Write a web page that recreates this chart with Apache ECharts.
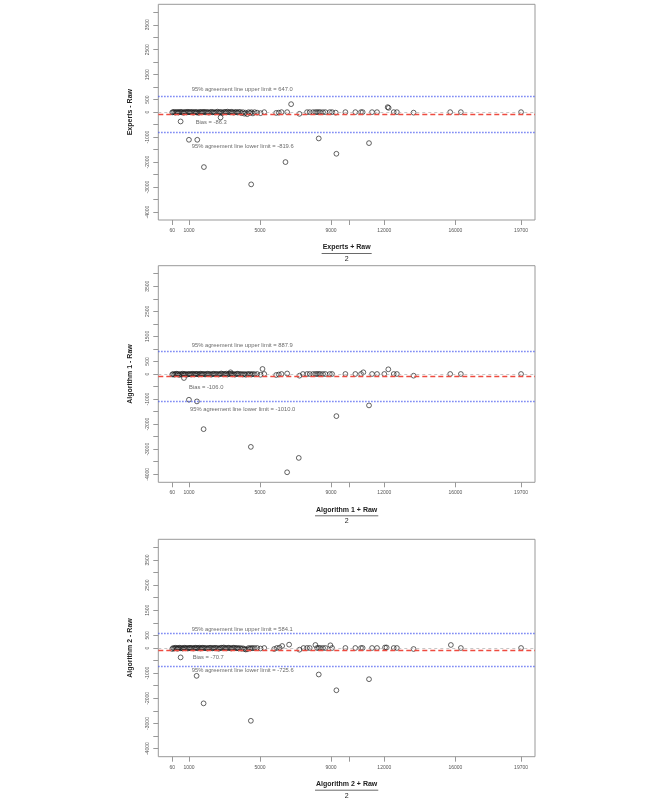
<!DOCTYPE html>
<html><head><meta charset="utf-8">
<script src="https://cdn.jsdelivr.net/npm/echarts@6/dist/echarts.min.js"></script>
<style>html,body{margin:0;padding:0;background:#fff}#c{width:666px;height:799px}</style>
</head><body><div id="c"></div>
<script>
// ---------- data ----------
const panelNames = ['Experts', 'Algorithm 1', 'Algorithm 2'];

const expertsPoints = [[60,-10],[110,0],[170,10],[230,-20],[290,0],[350,5],[400,-15],[460,0],[531,-373],[520,10],[580,-5],[640,0],[700,-25],[760,5],[820,0],[880,-10],[940,15],[1000,-1107],[1000,0],[1060,-5],[1120,0],[1180,10],[1240,-20],[1300,0],[1360,5],[1420,-10],[1469,-1107],[1480,0],[1540,-30],[1600,10],[1660,0],[1720,-5],[1780,0],[1843,-2200],[1850,15],[1910,-10],[1980,0],[2050,5],[2120,-20],[2190,0],[2260,10],[2330,-5],[2400,0],[2470,-15],[2540,0],[2610,20],[2680,-10],[2750,0],[2780,-213],[2820,5],[2890,-30],[2960,0],[3030,10],[3100,-5],[3170,20],[3240,0],[3310,-10],[3380,15],[3450,0],[3520,-20],[3590,0],[3660,5],[3730,-15],[3800,0],[3880,10],[3960,-40],[4040,0],[4120,-60],[4200,-20],[4280,-80],[4360,0],[4440,-30],[4504,-2893],[4520,0],[4600,-50],[4700,0],[4840,-20],[5030,-40],[5240,0],[5910,-30],[6060,-20],[6210,0],[6435,-2000],[6530,0],[6753,320],[7220,-67],[7650,0],[7800,0],[7990,0],[8120,0],[8215,0],[8309,-1053],[8310,0],[8400,0],[8550,0],[8685,0],[8930,0],[9060,0],[9265,-20],[9302,-1667],[9810,0],[10370,0],[10690,0],[10780,0],[11139,-1240],[11310,0],[11590,0],[12190,200],[12244,173],[12530,0],[12710,0],[13650,-20],[15710,0],[16310,0],[19700,0]];

const algorithm1Points = [[60,-20],[110,0],[170,-30],[230,0],[290,10],[350,-10],[400,0],[460,-40],[520,0],[580,-20],[640,10],[719,-160],[700,0],[760,-10],[820,0],[880,-30],[940,0],[1000,-1027],[1000,-10],[1060,0],[1120,-20],[1180,10],[1240,0],[1300,-15],[1360,0],[1420,5],[1450,-1093],[1480,0],[1540,-20],[1600,0],[1660,10],[1720,-10],[1780,0],[1825,-2200],[1850,0],[1910,-20],[1980,0],[2050,10],[2120,-5],[2190,0],[2260,-25],[2330,0],[2400,10],[2470,-10],[2540,0],[2610,0],[2680,-20],[2750,0],[2820,20],[2890,0],[2960,-10],[3030,0],[3100,15],[3170,-20],[3240,0],[3343,67],[3310,10],[3380,0],[3450,-10],[3520,0],[3590,-25],[3660,0],[3730,10],[3800,0],[3880,-10],[3960,0],[4040,-20],[4120,0],[4200,-30],[4280,0],[4360,-10],[4440,0],[4486,-2907],[4520,-20],[4600,0],[4700,-10],[4840,0],[5030,-30],[5142,200],[5240,0],[5910,-40],[6060,-20],[6210,0],[6528,-3920],[6530,20],[7184,-3347],[7222,-67],[7420,0],[7650,0],[7800,0],[7990,0],[8120,0],[8215,0],[8310,0],[8400,0],[8550,0],[8685,0],[8930,0],[9060,0],[9302,-1680],[9810,0],[10370,0],[10690,0],[10820,67],[11139,-1253],[11310,0],[11590,0],[12000,0],[12226,187],[12530,0],[12710,0],[13650,-67],[15710,0],[16310,0],[19700,0]];

const algorithm2Points = [[60,-40],[110,0],[170,-20],[230,10],[290,0],[350,-30],[400,0],[460,10],[531,-373],[520,-10],[580,0],[640,-20],[700,0],[760,10],[820,-10],[880,0],[940,-20],[1000,0],[1060,10],[1120,-10],[1180,0],[1240,-20],[1300,0],[1360,10],[1420,0],[1431,-1107],[1480,-10],[1540,0],[1600,10],[1660,-20],[1720,0],[1780,10],[1825,-2200],[1850,0],[1910,-10],[1980,0],[2050,-20],[2120,0],[2190,10],[2260,0],[2330,-15],[2400,0],[2470,10],[2540,-10],[2610,0],[2680,-30],[2750,0],[2820,10],[2890,0],[2960,20],[3030,0],[3100,-10],[3170,0],[3240,10],[3310,0],[3380,-20],[3450,0],[3520,10],[3590,0],[3660,-10],[3730,0],[3800,-20],[3880,0],[3960,-30],[4040,-10],[4120,-40],[4200,-60],[4280,-50],[4360,0],[4440,-20],[4486,-2893],[4520,0],[4600,-10],[4700,0],[4840,0],[5030,-20],[5240,0],[5800,-40],[5950,0],[6100,10],[6247,80],[6641,133],[7222,-67],[7450,0],[7650,0],[7800,0],[8121,120],[8215,0],[8309,-1053],[8310,0],[8400,0],[8550,0],[8685,0],[8965,107],[9060,0],[9302,-1680],[9810,0],[10370,0],[10690,0],[10780,0],[11139,-1240],[11310,0],[11590,0],[12040,20],[12130,20],[12530,0],[12710,0],[13650,-40],[15749,120],[16310,0],[19700,0]];

const biasValues = [-86.3, -106.0, -70.7];
const upperLimits = [647.0, 887.9, 584.1];
const lowerLimits = [-819.6, -1099.9, -725.6];
const biasText = ['-86.3', '-106.0', '-70.7'];
const upperText = ['647.0', '887.9', '584.1'];
const lowerText = ['-819.6', '-1010.0', '-725.6'];

const xTickValues = [60, 1000, 5000, 9000, 10000, 12000, 16000, 19700];
const xLabelValues = [60, 1000, 5000, 9000, 12000, 16000, 19700];
const yTickValues = [-4000,-3500,-3000,-2500,-2000,-1500,-1000,-500,0,500,1000,1500,2000,2500,3000,3500,4000];
const yLabelValues = [3500, 2500, 1500, 500, 0, -1000, -2000, -3000, -4000];

// ---------- layout / style config ----------
const xRange = [-725.6, 20485.6];
const yRange = [-4320, 4320];
const gridLeft = 158.3, gridWidth = 376.7;
const gridTops = [4.3, 265.7, 539.3];
const gridHeights = [215.7, 216.6, 217.4];
// annotation anchors in data coords: [upper, bias, lower]
const annotAnchors = [
  [[1155, 915], [1380, -423], [1155, -1356]],
  [[1155, 1129], [1005, -519], [1060, -1408]],
  [[1155, 755], [1210, -385], [1155, -902]]
];

const pointSets = [expertsPoints, algorithm1Points, algorithm2Points];
const FONT = '"Liberation Sans", Arial, Helvetica, sans-serif';
const plain = v => String(v);

const chart = echarts.init(document.getElementById('c'), null, {renderer: 'canvas'});

const grids = [], xAxes = [], yAxes = [], series = [], graphics = [];
const meas = document.createElement('canvas').getContext('2d');
meas.font = 'bold 7px ' + FONT;

for (let i = 0; i < 3; i++) {
  grids.push({left: gridLeft, width: gridWidth, top: gridTops[i], height: gridHeights[i],
    show: true, borderColor: '#999', borderWidth: 1, backgroundColor: 'transparent'});
  xAxes.push({type: 'value', gridIndex: i, min: xRange[0], max: xRange[1], position: 'bottom',
    axisLine: {show: false, onZero: false},
    axisTick: {show: true, inside: false, length: 5, customValues: xTickValues, lineStyle: {color: '#999', width: 1}},
    axisLabel: {show: true, customValues: xLabelValues, formatter: plain, fontSize: 5, color: '#555', margin: 8, fontFamily: FONT},
    splitLine: {show: false}});
  yAxes.push({type: 'value', gridIndex: i, min: yRange[0], max: yRange[1], position: 'left',
    name: panelNames[i] + ' - Raw', nameLocation: 'middle', nameGap: 25, nameRotate: 90,
    nameTextStyle: {fontSize: 7, fontWeight: 'bold', color: '#222', fontFamily: FONT},
    axisLine: {show: false, onZero: false},
    axisTick: {show: true, inside: false, length: 5, customValues: yTickValues, lineStyle: {color: '#999', width: 1}},
    axisLabel: {show: true, customValues: yLabelValues, formatter: plain, rotate: 90, fontSize: 5, color: '#555', margin: 8, fontFamily: FONT},
    splitLine: {show: false}});

  series.push({type: 'scatter', xAxisIndex: i, yAxisIndex: i, data: pointSets[i],
    symbol: 'circle', symbolSize: 4.8,
    itemStyle: {color: 'rgba(0,0,0,0)', borderColor: '#1a1a1a', borderWidth: 0.85},
    markLine: {silent: true, symbol: ['none', 'none'], label: {show: false}, animation: false,
      data: [
        {yAxis: 0, lineStyle: {color: '#b0b0b0', type: [3, 3], width: 0.7}},
        {yAxis: biasValues[i], lineStyle: {color: '#ee4b40', type: [5, 3], width: 1.4}},
        {yAxis: upperLimits[i], lineStyle: {color: '#4f5ff0', type: [1.2, 1.8], width: 1.3}},
        {yAxis: lowerLimits[i], lineStyle: {color: '#4f5ff0', type: [1.2, 1.8], width: 1.3}}
      ]}
  });

  const texts = [
    '95% agreement line upper limit = ' + upperText[i],
    'Bias = ' + biasText[i],
    '95% agreement line lower limit = ' + lowerText[i]
  ];
  series.push({type: 'scatter', xAxisIndex: i, yAxisIndex: i, symbolSize: 0, silent: true,
    data: annotAnchors[i].map((p, k) => ({value: p, label: {formatter: texts[k]}})),
    label: {show: true, position: 'right', distance: 0, fontSize: 5.8, color: '#444', fontFamily: FONT}
  });

  // x-axis fraction title
  const bottom = gridTops[i] + gridHeights[i];
  const cx = gridLeft + gridWidth / 2;
  const title = panelNames[i] + ' + Raw';
  const w = meas.measureText(title).width + 2;
  graphics.push({type: 'text', x: cx, y: bottom + 27.5, style: {text: title, font: 'bold 7px ' + FONT, fill: '#222', align: 'center', verticalAlign: 'middle'}});
  graphics.push({type: 'line', shape: {x1: cx - w / 2, y1: bottom + 33.5, x2: cx + w / 2, y2: bottom + 33.5}, style: {stroke: '#444', lineWidth: 0.8}});
  graphics.push({type: 'text', x: cx, y: bottom + 39, style: {text: '2', font: '7px ' + FONT, fill: '#222', align: 'center', verticalAlign: 'middle'}});
}

chart.setOption({animation: false, backgroundColor: '#fff', grid: grids, xAxis: xAxes, yAxis: yAxes, series: series, graphic: graphics});
</script></body></html>
